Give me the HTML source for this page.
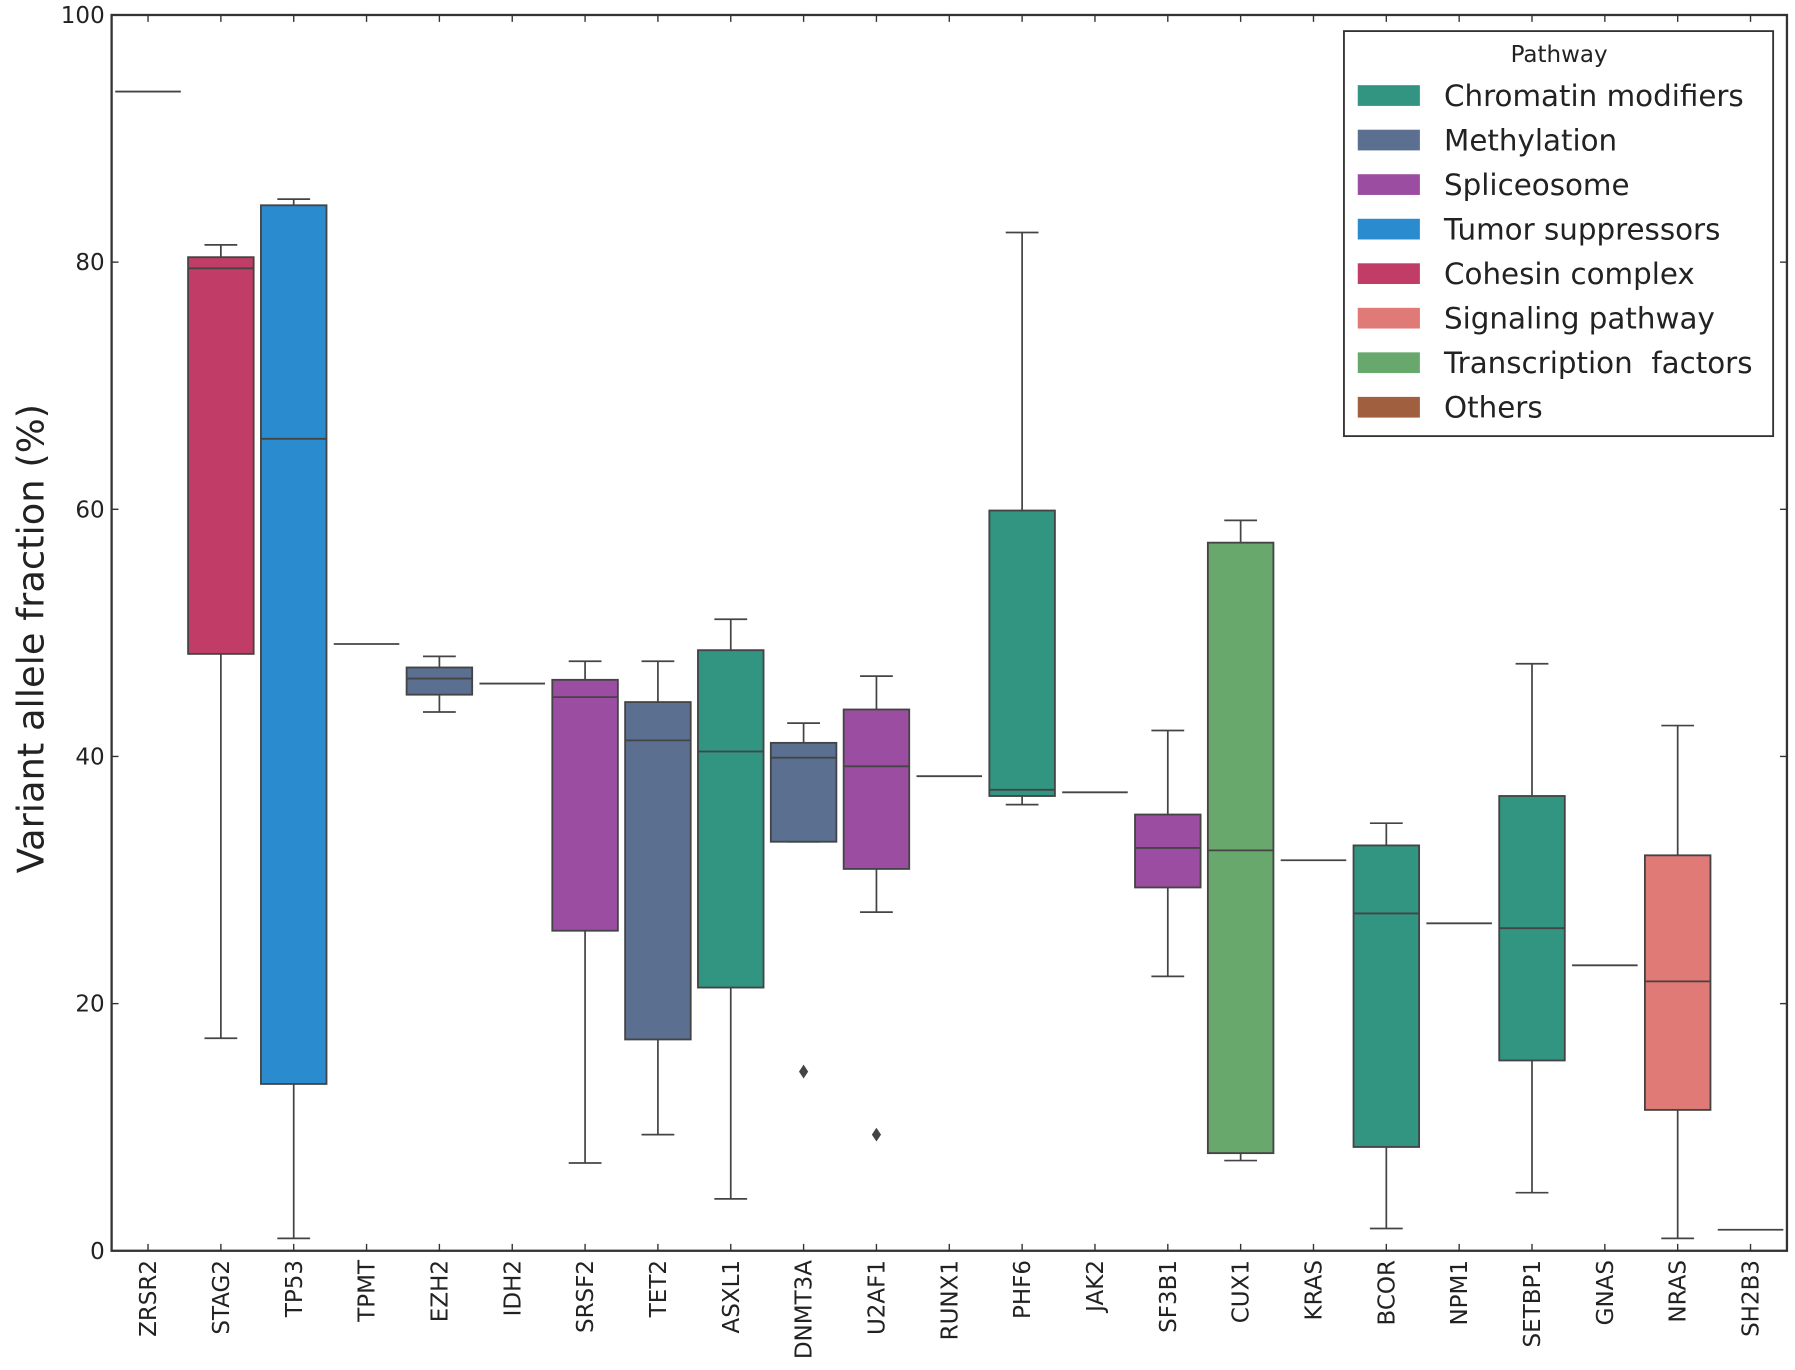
<!DOCTYPE html>
<html><head><meta charset="utf-8"><style>
html,body{margin:0;padding:0;background:#fff}
svg{display:block}
text{font-family:"DejaVu Sans","Liberation Sans",sans-serif;fill:#222}
</style></head><body>
<svg id="chart" width="1795" height="1370" viewBox="0 0 1560 1190.6" xmlns="http://www.w3.org/2000/svg">
<g id="plot"></g>
</svg>
<script>
const genes=["ZRSR2","STAG2","TP53","TPMT","EZH2","IDH2","SRSF2","TET2","ASXL1","DNMT3A","U2AF1","RUNX1","PHF6","JAK2","SF3B1","CUX1","KRAS","BCOR","NPM1","SETBP1","GNAS","NRAS","SH2B3"];
const pathwayOf=["none","Cohesin complex","Tumor suppressors","none","Methylation","none","Spliceosome","Methylation","Chromatin modifiers","Methylation","Spliceosome","none","Chromatin modifiers","none","Spliceosome","Transcription factors","none","Chromatin modifiers","none","Chromatin modifiers","none","Signaling pathway","none"];
const whiskerLow=[93.8,17.2,1.0,49.1,43.6,45.9,7.1,9.4,4.2,33.1,27.4,38.4,36.1,37.1,22.2,7.3,31.6,1.8,26.5,4.7,23.1,1.0,1.7];
const q1=[93.8,48.3,13.5,49.1,45.0,45.9,25.9,17.1,21.3,33.1,30.9,38.4,36.8,37.1,29.4,7.9,31.6,8.4,26.5,15.4,23.1,11.4,1.7];
const medians=[93.8,79.5,65.7,49.1,46.3,45.9,44.8,41.3,40.4,39.9,39.2,38.4,37.3,37.1,32.6,32.4,31.6,27.3,26.5,26.1,23.1,21.8,1.7];
const q3=[93.8,80.4,84.6,49.1,47.2,45.9,46.2,44.4,48.6,41.1,43.8,38.4,59.9,37.1,35.3,57.3,31.6,32.8,26.5,36.8,23.1,32.0,1.7];
const whiskerHigh=[93.8,81.4,85.1,49.1,48.1,45.9,47.7,47.7,51.1,42.7,46.5,38.4,82.4,37.1,42.1,59.1,31.6,34.6,26.5,47.5,23.1,42.5,1.7];
const outlierGene=["DNMT3A","U2AF1"];
const outlierValue=[14.5,9.4];
const yTicks=[0,20,40,60,80,100];
const legendNames=["Chromatin modifiers","Methylation","Spliceosome","Tumor suppressors","Cohesin complex","Signaling pathway","Transcription  factors","Others"];
const legendKeys=["Chromatin modifiers","Methylation","Spliceosome","Tumor suppressors","Cohesin complex","Signaling pathway","Transcription factors","Others"];
const legendColors=["#319582","#5b7090","#9b4ea1","#2b8bcf","#c13d68","#df7a76","#68a86d","#a0603f"];

const L=97,R=1553,T=13,B=1087;
const x=i=>L+(i+0.5)*(R-L)/genes.length;
const y=v=>B-(v/100)*(B-T);
const bw=0.9*(R-L)/genes.length;
const ns="http://www.w3.org/2000/svg";
const g=document.getElementById('plot');
function el(t,a,p){const e=document.createElementNS(ns,t);for(const k in a)e.setAttribute(k,a[k]);(p||g).appendChild(e);return e;}
const stroke="#444";
genes.forEach((name,i)=>{
  const grp=el('g',{});
  
  
  const cx=x(i);
  if(pathwayOf[i]==="none"){
    const ln=el('line',{x1:cx-bw/2,x2:cx+bw/2,y1:y(medians[i]),y2:y(medians[i]),stroke:stroke,'stroke-width':1.6},grp);
    
    
    return;
  }
  const col=legendColors[legendKeys.indexOf(pathwayOf[i])];
  el('line',{x1:cx,x2:cx,y1:y(whiskerHigh[i]),y2:y(q3[i]),stroke:stroke,'stroke-width':1.5},grp);
  el('line',{x1:cx,x2:cx,y1:y(q1[i]),y2:y(whiskerLow[i]),stroke:stroke,'stroke-width':1.5},grp);
  el('line',{x1:cx-bw/4,x2:cx+bw/4,y1:y(whiskerHigh[i]),y2:y(whiskerHigh[i]),stroke:stroke,'stroke-width':1.5},grp);
  el('line',{x1:cx-bw/4,x2:cx+bw/4,y1:y(whiskerLow[i]),y2:y(whiskerLow[i]),stroke:stroke,'stroke-width':1.5},grp);
  const r=el('rect',{x:cx-bw/2,y:y(q3[i]),width:bw,height:y(q1[i])-y(q3[i]),fill:col,stroke:stroke,'stroke-width':1.6},grp);
  
  
  el('line',{x1:cx-bw/2,x2:cx+bw/2,y1:y(medians[i]),y2:y(medians[i]),stroke:stroke,'stroke-width':1.6},grp);
});
outlierGene.forEach((n,k)=>{
  const cx=x(genes.indexOf(n)),cy=y(outlierValue[k]);
  const o=el('path',{d:`M${cx} ${cy-6}L${cx+4} ${cy}L${cx} ${cy+6}L${cx-4} ${cy}Z`,fill:"#444"});
  
  
});
// frame
const fr=el('rect',{x:L,y:T,width:R-L,height:B-T,fill:'none',stroke:'#333','stroke-width':2});


yTicks.forEach(v=>{
  el('line',{x1:L,x2:L+6,y1:y(v),y2:y(v),stroke:'#333','stroke-width':1.2});
  el('line',{x1:R,x2:R-6,y1:y(v),y2:y(v),stroke:'#333','stroke-width':1.2});
  const t=el('text',{x:L-6,y:y(v)+7,'text-anchor':'end','font-size':20});
  t.textContent=v;
  
  
});
genes.forEach((n,i)=>{
  el('line',{x1:x(i),x2:x(i),y1:B,y2:B-6,stroke:'#333','stroke-width':1.2});
  el('line',{x1:x(i),x2:x(i),y1:T,y2:T+6,stroke:'#333','stroke-width':1.2});
  const t=el('text',{x:0,y:0,'text-anchor':'end','font-size':20,transform:`translate(${x(i)+7},${B+8}) rotate(-90)`});
  t.textContent=n;
  
  
});
const yl=el('text',{x:0,y:0,'text-anchor':'middle','font-size':32,transform:'translate(38,555) rotate(-90)'});
yl.textContent='Variant allele fraction (%)';


// legend
const lg=el('g',{});


el('rect',{x:1168,y:27,width:373,height:352,fill:'#fff',stroke:'#333','stroke-width':1.6},lg);
const lt=el('text',{x:1355,y:54,'text-anchor':'middle','font-size':20},lg);
lt.textContent='Pathway';


legendNames.forEach((n,k)=>{
  const cy=83+k*38.7;
  const e=el('g',{},lg);
  
  
  el('rect',{x:1180,y:cy-9,width:54,height:18,fill:legendColors[k]},e);
  const t=el('text',{x:1255,y:cy+9,'font-size':25.5},e);
  t.textContent=n;
  t.setAttribute('xml:space','preserve');
  t.style.whiteSpace='pre';
});
</script>
</body></html>
